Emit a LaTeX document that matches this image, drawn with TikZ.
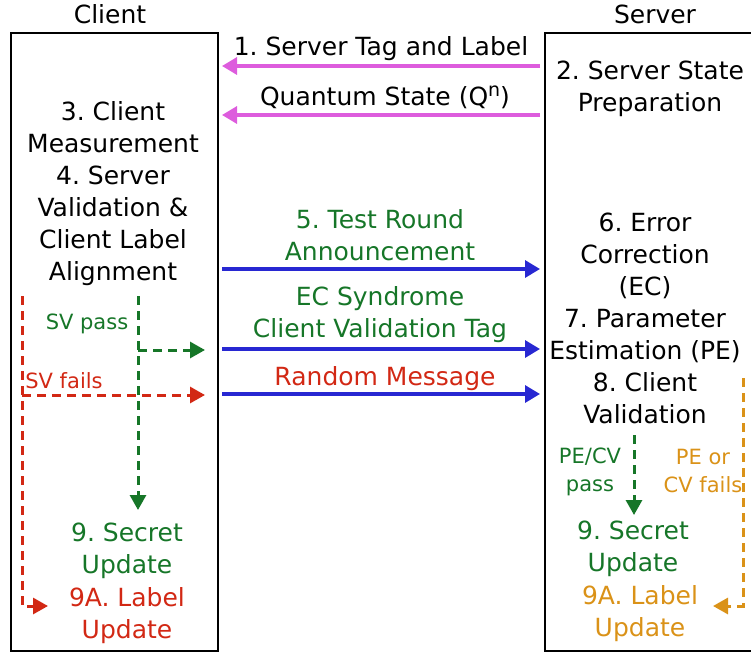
\documentclass[tikz,border=0pt]{standalone}
\usepackage{fontspec}
\setmainfont{DejaVu Sans}
\usetikzlibrary{arrows.meta}
\frenchspacing
\definecolor{cmag}{RGB}{221,92,221}
\definecolor{cblue}{RGB}{40,40,210}
\definecolor{cgreen}{RGB}{22,118,40}
\definecolor{cred}{RGB}{210,40,20}
\definecolor{corange}{RGB}{218,146,24}
\tikzset{
  txt/.style={align=center,inner sep=0pt,font=\fontsize{25}{32}\selectfont},
  small/.style={align=center,inner sep=0pt,font=\fontsize{21}{28}\selectfont},
  party/.style={draw=black,line width=2.2pt},
  msg/.style={line width=3.2pt,-{Triangle[length=15pt,width=17pt]}},
  flow/.style={line width=3pt,dash pattern=on 9pt off 6pt,-{Triangle[length=15pt,width=16pt]}}
}
\begin{document}
\begin{tikzpicture}[x=1pt,y=-1pt]
\useasboundingbox (0,0) rectangle (751,656);
% titles
\node[txt] (tc) at (110,14) {Client};
\node[txt] (ts) at (655,14) {Server};
% boxes
\node[party,minimum width=207pt,minimum height=618pt,inner sep=0pt] (cbox) at (114.5,342) {};
\node[party,minimum width=212pt,minimum height=618pt,inner sep=0pt] (sbox) at (651,342) {};
% coordinates for arrow ends
\coordinate (m1s) at (540,66);  \coordinate (m1e) at (222,66);
\coordinate (m2s) at (540,115); \coordinate (m2e) at (222,115);
\coordinate (b1s) at (222,269); \coordinate (b1e) at (540,269);
\coordinate (b2s) at (222,349); \coordinate (b2e) at (540,349);
\coordinate (b3s) at (222,394); \coordinate (b3e) at (540,394);
% messages
\draw[msg,cmag] (m1s) -- (m1e);
\node[txt] (l1) at (381,49) {1. Server Tag and Label};
\draw[msg,cmag] (m2s) -- (m2e);
\node[txt] (l2) at (385,97) {Quantum State (Q\raisebox{9pt}{\fontsize{19}{19}\selectfont n})};
\draw[msg,cblue] (b1s) -- (b1e);
\node[txt,text=cgreen] (l5) at (380,235) {5. Test Round\\Announcement};
\draw[msg,cblue] (b2s) -- (b2e);
\node[txt,text=cgreen] (lec) at (380,315) {EC Syndrome\\Client Validation Tag};
\draw[msg,cblue] (b3s) -- (b3e);
\node[txt,text=cred] (lrm) at (385,379) {Random Message};
% server texts
\node[txt] (s2) at (650,89) {2. Server State\\Preparation};
\node[txt] (s6) at (645,318) {6. Error\\Correction\\(EC)\\7. Parameter\\Estimation (PE)\\8. Client\\Validation};
% client texts
\node[txt] (c3) at (113,194) {3. Client\\Measurement\\4. Server\\Validation \&\\Client Label\\Alignment};
% client flows
\coordinate (gtop) at (138,296);
\coordinate (gmid) at (138,350);
\coordinate (gend) at (138,510);
\coordinate (gright) at (205,350);
\coordinate (rtop) at (22,296);
\coordinate (rmid) at (22,395);
\coordinate (rcorner) at (22,606);
\coordinate (rend) at (48,606);
\coordinate (rright) at (205,395);
\draw[flow,cgreen] (gtop) -- (gend);
\draw[flow,cgreen] (gmid) -- (gright);
\draw[flow,cred] (rtop) -- (rcorner) -- (rend);
\draw[flow,cred] (rmid) -- (rright);
\node[small,text=cgreen] (svp) at (87,324) {SV pass};
\node[small,text=cred] (svf) at (64,381) {SV fails};
\node[txt,text=cgreen] (c9) at (127,551) {9. Secret\\Update};
\node[txt,text=cred] (c9a) at (127,616) {9A. Label\\Update};
% server flows
\coordinate (sgtop) at (634,435);
\coordinate (sgend) at (634,515);
\coordinate (sotop) at (743,378);
\coordinate (socorner) at (743,606);
\coordinate (soend) at (713,606);
\draw[flow,cgreen] (sgtop) -- (sgend);
\draw[flow,corange] (sotop) -- (socorner) -- (soend);
\node[small,text=cgreen] (pep) at (590,472) {PE/CV\\pass};
\node[small,text=corange] (pef) at (703,471) {PE or\\CV fails};
\node[txt,text=cgreen] (s9) at (633,549) {9. Secret\\Update};
\node[txt,text=corange] (s9a) at (640,614) {9A. Label\\Update};
\end{tikzpicture}
\end{document}
